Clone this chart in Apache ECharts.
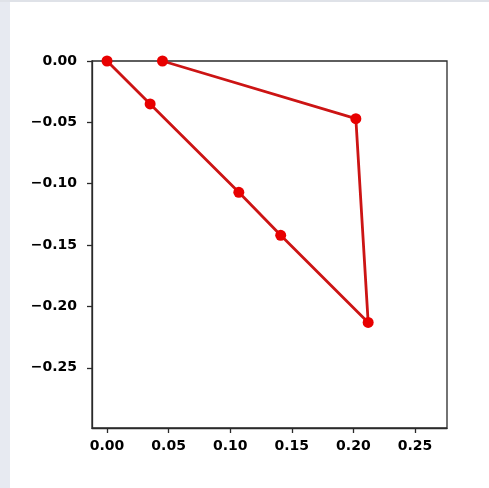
<!DOCTYPE html>
<html>
<head>
<meta charset="utf-8">
<script src="https://cdn.jsdelivr.net/npm/echarts@6/dist/echarts.min.js"></script>
<style>html,body{margin:0;padding:0;background:#fff;}#c{width:489px;height:488px;}</style>
</head>
<body>
<div id="c"></div>
<script>
var xValues = [0.000, 0.035, 0.107, 0.141, 0.212, 0.202, 0.045];
var yValues = [0.000, -0.035, -0.107, -0.142, -0.213, -0.047, 0.000];
var xTicks = [0.00, 0.05, 0.10, 0.15, 0.20, 0.25];
var yTicks = [0.00, -0.05, -0.10, -0.15, -0.20, -0.25];

var points = xValues.map(function (x, i) { return [x, yValues[i]]; });
function fmt(v) {
  var s = Math.abs(v).toFixed(2);
  return (v < -1e-9 ? '\u2212' : '') + s;
}
var labelStyle = { color: '#000', fontFamily: 'DejaVu Sans', fontWeight: 'bold', fontSize: 14 };
var chart = echarts.init(document.getElementById('c'), null, { renderer: 'canvas' });
chart.setOption({
  animation: false,
  backgroundColor: '#fff',
  graphic: [
    { type: 'rect', shape: { x: 0, y: 0, width: 10, height: 488 }, style: { fill: '#e7eaf1' }, z: -10 },
    { type: 'rect', shape: { x: 0, y: 0, width: 489, height: 2 }, style: { fill: '#dfe2e8' }, z: -10 }
  ],
  grid: { left: 92, top: 61, right: 42, bottom: 60, show: true, borderColor: '#2a2a2a', borderWidth: 1.3, backgroundColor: '#fff' },
  xAxis: {
    type: 'value', min: -0.0122, max: 0.276,
    axisLine: { show: true, onZero: false, lineStyle: { color: '#2a2a2a', width: 1.3 } },
    splitLine: { show: false },
    axisTick: { show: true, length: 5, customValues: xTicks, lineStyle: { color: '#2a2a2a', width: 1.3 } },
    axisLabel: Object.assign({ customValues: xTicks, margin: 11, formatter: fmt }, labelStyle)
  },
  yAxis: {
    type: 'value', min: -0.299, max: 0,
    axisLine: { show: true, onZero: false, lineStyle: { color: '#2a2a2a', width: 1.3 } },
    splitLine: { show: false },
    axisTick: { show: true, length: 5, customValues: yTicks, lineStyle: { color: '#2a2a2a', width: 1.3 } },
    axisLabel: Object.assign({ customValues: yTicks, margin: 15, formatter: fmt }, labelStyle)
  },
  series: [{
    type: 'line',
    data: points,
    clip: true,
    symbol: 'circle',
    symbolSize: 11,
    lineStyle: { color: '#cc1414', width: 2.8 },
    itemStyle: { color: '#e80000', borderWidth: 0 }
  }]
});
</script>
</body>
</html>
